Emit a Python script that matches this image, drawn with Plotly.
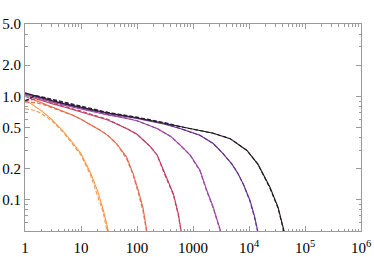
import math
import plotly.graph_objects as go

# ---- data ----
x_or = [1, 1.5, 2, 3, 5, 7, 10, 15, 20, 25, 31, 34]
y_or_s = [0.93, 0.80, 0.72, 0.60, 0.45, 0.36, 0.28, 0.18, 0.12, 0.08, 0.05, 0.04]
x_or_d = [1, 1.5, 2, 3, 5, 7, 10, 15, 20, 25, 29, 32]
y_or_d = [0.76, 0.73, 0.68, 0.58, 0.44, 0.35, 0.27, 0.17, 0.11, 0.075, 0.05, 0.038]

x_co = [1, 1.5, 2, 3, 5, 7, 10, 15, 22, 30, 43, 65, 85, 105, 128, 150, 165]
y_co_s = [1.0, 0.92, 0.86, 0.79, 0.71, 0.66, 0.60, 0.53, 0.47, 0.42, 0.35, 0.26, 0.18, 0.124, 0.084, 0.05, 0.036]
y_co_d = [0.88, 0.87, 0.84, 0.78, 0.71, 0.66, 0.60, 0.53, 0.47, 0.42, 0.35, 0.25, 0.175, 0.118, 0.078, 0.047, 0.034]

x_cr = [1, 1.5, 2, 3, 5, 10, 20, 30, 65, 100, 170, 230, 295, 445, 545, 600, 680]
y_cr_s = [1.03, 0.96, 0.91, 0.85, 0.79, 0.71, 0.63, 0.59, 0.49, 0.43, 0.33, 0.27, 0.195, 0.115, 0.074, 0.055, 0.036]
y_cr_d = [0.90, 0.94, 0.92, 0.87, 0.80, 0.72, 0.64, 0.60, 0.49, 0.43, 0.33, 0.27, 0.19, 0.112, 0.072, 0.053, 0.035]

x_mg = [1, 1.5, 2, 3, 5, 10, 15, 30, 56, 100, 228, 400, 585, 890, 1330, 1750, 2300, 3100, 3500]
y_mg_s = [1.05, 0.98, 0.93, 0.88, 0.82, 0.75, 0.71, 0.66, 0.62, 0.58, 0.49, 0.41, 0.34, 0.27, 0.194, 0.125, 0.085, 0.05, 0.036]
y_mg_d = [0.90, 1.00, 0.97, 0.91, 0.85, 0.77, 0.73, 0.67, 0.63, 0.58, 0.49, 0.41, 0.34, 0.27, 0.19, 0.122, 0.083, 0.049, 0.035]

x_pu = [1, 1.5, 2, 3, 5, 10, 15, 30, 100, 300, 585, 1330, 2300, 3440, 5000, 6340, 8000, 10400, 12500, 14300, 16000]
y_pu_s = [1.07, 1.0, 0.95, 0.90, 0.84, 0.77, 0.73, 0.68, 0.61, 0.54, 0.49, 0.42, 0.35, 0.28, 0.22, 0.18, 0.14, 0.099, 0.07, 0.05, 0.038]
y_pu_d = [0.90, 1.01, 0.98, 0.93, 0.87, 0.79, 0.75, 0.70, 0.62, 0.55, 0.49, 0.42, 0.35, 0.28, 0.22, 0.18, 0.14, 0.097, 0.068, 0.049, 0.037]

x_bk = [1, 1.5, 2, 3, 5, 10, 15, 30, 100, 300, 585, 1000, 2300, 4600, 9200, 14500, 23600, 33000, 42700, 48000]
y_bk_s = [1.08, 1.01, 0.96, 0.91, 0.85, 0.78, 0.74, 0.69, 0.62, 0.55, 0.51, 0.48, 0.44, 0.39, 0.30, 0.22, 0.133, 0.085, 0.05, 0.038]
y_bk_d = [0.90, 1.02, 0.99, 0.94, 0.88, 0.80, 0.76, 0.70, 0.63, 0.56, 0.51, 0.48, 0.44, 0.39, 0.30, 0.22, 0.13, 0.083, 0.049, 0.037]

x_tickvals = [1, 10, 100, 1000, 1e4, 1e5, 1e6]
x_ticktext = ["1", "10", "100", "1000", "10<sup>4</sup>", "10<sup>5</sup>", "10<sup>6</sup>"]
y_tickvals = [0.1, 0.2, 0.5, 1, 2, 5]
y_ticktext = ["0.1", "0.2", "0.5", "1.0", "2.0", "5.0"]

series = [
    (x_or, y_or_s, x_or_d, y_or_d, "#f7974a"),
    (x_co, y_co_s, x_co, y_co_d, "#e66c52"),
    (x_cr, y_cr_s, x_cr, y_cr_d, "#c03e63"),
    (x_mg, y_mg_s, x_mg, y_mg_d, "#9c46a0"),
    (x_pu, y_pu_s, x_pu, y_pu_d, "#66318c"),
    (x_bk, y_bk_s, x_bk, y_bk_d, "#241a26"),
]

fig = go.Figure()
for xs, ys, xd, yd, col in series:
    fig.add_trace(go.Scatter(x=xd, y=yd, mode="lines",
                             line=dict(color=col, width=1.1, dash="4px,2px")))
    fig.add_trace(go.Scatter(x=xs, y=ys, mode="lines",
                             line=dict(color=col, width=1.1)))

x_minor = [m * 10 ** k for k in range(0, 6) for m in range(2, 10)]
y_minor = [0.06, 0.07, 0.08, 0.09, 0.3, 0.4, 0.6, 0.7, 0.8, 0.9, 3, 4]

axcol = "#9a9a9a"
fnt = dict(family="Liberation Serif, Times New Roman, serif", size=15, color="#000")

fig.update_layout(
    width=374, height=257,
    margin=dict(l=25, r=13, t=24, b=26),
    paper_bgcolor="white", plot_bgcolor="white",
    showlegend=False,
    font=fnt,
)
fig.update_xaxes(
    type="log", range=[0, 6], showgrid=False, zeroline=False,
    showline=True, linecolor=axcol, linewidth=1, mirror="ticks",
    ticks="inside", ticklen=5, tickcolor=axcol, tickwidth=1,
    tickmode="array", tickvals=x_tickvals, ticktext=x_ticktext,
    tickfont=fnt, automargin=False, ticklabelstandoff=3,
    minor=dict(tickmode="array", tickvals=x_minor, ticks="inside",
               ticklen=2.5, tickcolor=axcol, showgrid=False),
)
fig.update_yaxes(
    type="log", range=[math.log10(0.05), math.log10(5)], showgrid=False, zeroline=False,
    showline=True, linecolor=axcol, linewidth=1, mirror="ticks",
    ticks="inside", ticklen=5, tickcolor=axcol, tickwidth=1,
    tickmode="array", tickvals=y_tickvals, ticktext=y_ticktext,
    tickfont=fnt, automargin=False, ticklabelstandoff=0,
    minor=dict(tickmode="array", tickvals=y_minor, ticks="inside",
               ticklen=2.5, tickcolor=axcol, showgrid=False),
)

fig.write_html("out.html", config={"displayModeBar": False},
               post_script="document.body.style.margin='0';")
